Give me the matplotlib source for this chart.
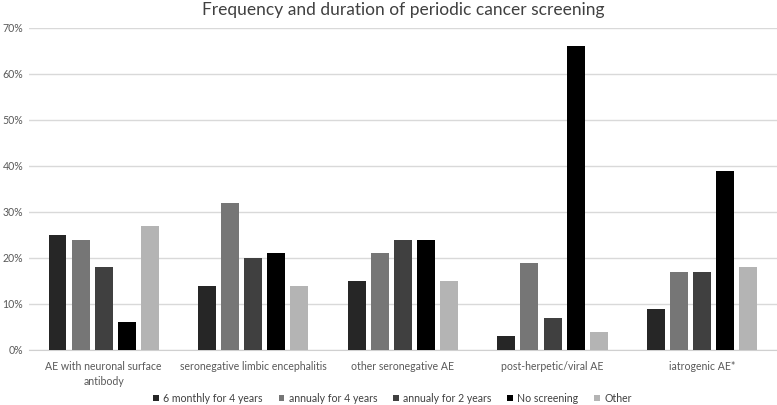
import numpy as np
import matplotlib
matplotlib.use("Agg")
import matplotlib.pyplot as plt

# -----------------------------------------
# Data
# -----------------------------------------
categories = ["AE with neuronal surface\nantibody",
              "seronegative limbic encephalitis",
              "other seronegative AE",
              "post-herpetic/viral AE",
              "iatrogenic AE*"]
series_names = ["6 monthly for 4 years", "annualy for 4 years",
                "annualy for 2 years", "No screening", "Other"]
six_monthly_4y = [25, 14, 15, 3, 9]
annual_4y = [24, 32, 21, 19, 17]
annual_2y = [18, 20, 24, 7, 17]
no_screening = [6, 21, 24, 66, 39]
other = [27, 14, 15, 4, 18]

colors = ["#262626", "#767676", "#404040", "#000000", "#b4b4b4"]
series = [six_monthly_4y, annual_4y, annual_2y, no_screening, other]

plt.rcParams['font.family'] = ['Lato', 'DejaVu Sans']

fig = plt.figure(figsize=(7.77, 4.05), dpi=100)
ax = fig.add_axes([0.037, 0.136, 0.963, 0.795])

x = np.arange(len(categories))
step = 0.154
width = 0.12
for i, (vals, name, c) in enumerate(zip(series, series_names, colors)):
    ax.bar(x + (i - 2) * step, np.array(vals) / 100, width, color=c, label=name,
           zorder=3)

ax.set_xlim(-0.5, len(categories) - 0.5)
ax.set_ylim(0, 0.7)
ax.set_yticks(np.arange(0, 0.71, 0.1))
ax.set_yticklabels([f"{int(round(v * 100))}%" for v in np.arange(0, 0.71, 0.1)])
ax.set_xticks(x)
ax.set_xticklabels(categories, linespacing=1.45)
ax.tick_params(axis="both", length=0, labelsize=7.6, colors="#595959")
ax.tick_params(axis="x", pad=8)
ax.tick_params(axis="y", pad=4)
ax.yaxis.grid(True, color="#d9d9d9", linewidth=1, zorder=0)
for s in ["top", "right", "left"]:
    ax.spines[s].set_visible(False)
ax.spines["bottom"].set_color("#d0d0d0")

ax.set_title("Frequency and duration of periodic cancer screening",
             fontsize=12.5, color="#404040", pad=9)

fig.legend(loc="center", bbox_to_anchor=(0.505, 0.016), ncol=5, frameon=False,
           fontsize=7.6, handlelength=0.55, handleheight=0.55, columnspacing=1.5,
           handletextpad=0.4, labelcolor="#404040", borderpad=0)

fig.savefig("out.png", dpi=100)
